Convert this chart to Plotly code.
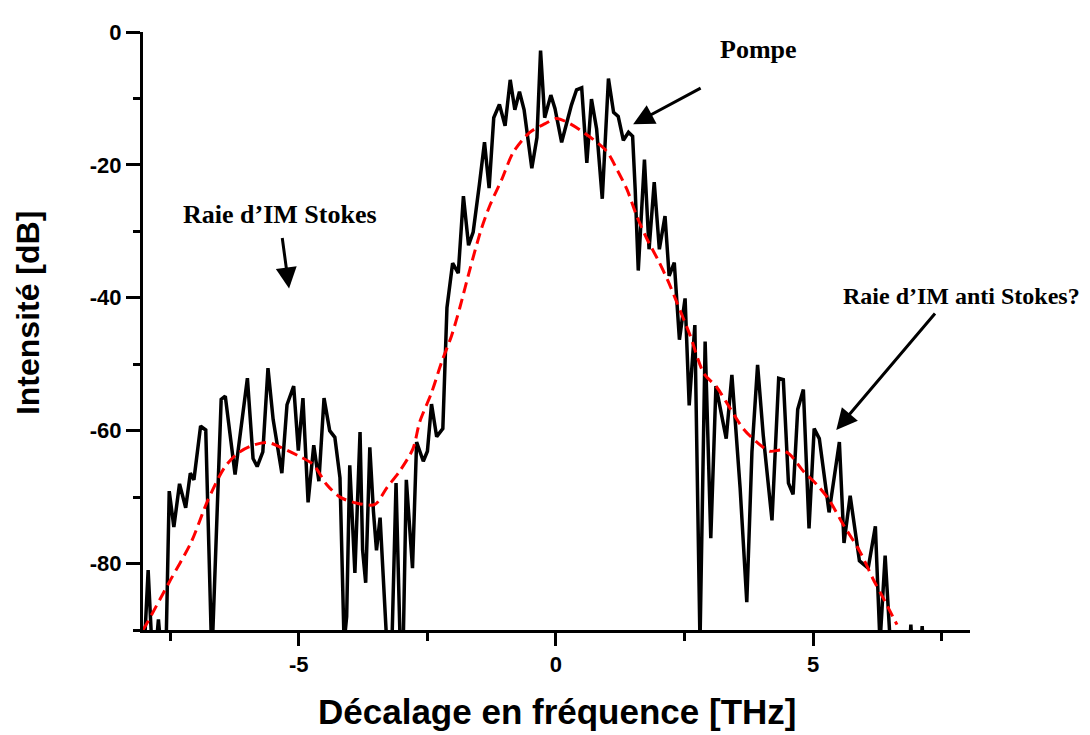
import plotly.graph_objects as go

# Measured spectrum (black) : frequency offset [THz], intensity [dB]
freq = [-8.00, -7.93, -7.86, -7.77, -7.73, -7.69, -7.58, -7.52, -7.43, -7.32, -7.20, -7.11, -7.04,
        -6.91, -6.81, -6.75, -6.70, -6.68, -6.51, -6.43, -6.24, -6.00, -5.89, -5.81, -5.70, -5.60,
        -5.50, -5.33, -5.23, -5.10, -5.01, -4.92, -4.82, -4.71, -4.61, -4.51, -4.40, -4.30, -4.20,
        -4.12, -4.07, -4.01, -3.91, -3.81, -3.76, -3.70, -3.62, -3.55, -3.49, -3.42, -3.29, -3.19,
        -3.11, -3.03, -2.97, -2.91, -2.79, -2.71, -2.58, -2.50, -2.42, -2.32, -2.20, -2.12, -2.01,
        -1.90, -1.80, -1.70, -1.61, -1.49, -1.39, -1.30, -1.21, -1.10, -0.99, -0.89, -0.80, -0.71,
        -0.62, -0.47, -0.37, -0.30, -0.22, -0.10, -0.02, 0.11, 0.30, 0.40, 0.50, 0.60, 0.69, 0.79,
        0.90, 1.02, 1.12, 1.21, 1.31, 1.41, 1.49, 1.54, 1.60, 1.72, 1.81, 1.91, 2.01, 2.12, 2.20,
        2.30, 2.40, 2.51, 2.59, 2.70, 2.80, 2.90, 3.01, 3.11, 3.31, 3.42, 3.58, 3.71, 3.81, 3.92,
        4.03, 4.20, 4.33, 4.42, 4.52, 4.61, 4.70, 4.81, 4.92, 5.02, 5.12, 5.31, 5.51, 5.60, 5.72,
        5.90, 6.07, 6.21, 6.30, 6.40, 6.50, 6.88, 6.90, 6.92, 7.10, 7.12, 7.14]
intensity = [-92, -81.0, -92, -92, -88.4, -92, -92, -69.1, -74.5, -68.0, -71.6, -66.4, -67.4,
             -59.3, -59.9, -78.0, -92, -92, -55.3, -54.8, -66.6, -52.1, -64.2, -65.4, -63.2, -50.6,
             -58.3, -66.4, -56.1, -53.3, -63.0, -55.1, -70.8, -62.2, -67.6, -55.1, -60.0, -61.0, -67.1,
             -92, -88.0, -65.2, -81.4, -60.2, -78.0, -82.9, -62.5, -72.1, -78.0, -73.1, -92, -92,
             -67.9, -92, -92, -67.4, -80.7, -61.7, -64.6, -63.1, -56.0, -60.9, -59.7, -41.5, -34.8,
             -36.3, -24.7, -32.1, -30.1, -23.0, -16.6, -23.5, -12.9, -10.9, -14.1, -7.2, -11.7, -9.0,
             -11.7, -20.5, -15.9, -2.8, -12.9, -9.5, -11.5, -16.6, -11.0, -8.7, -8.4, -19.7, -10.1, -14.6,
             -25.1, -7.0, -12.1, -12.7, -16.3, -15.1, -15.7, -23.7, -35.9, -19.2, -32.7, -22.6, -32.7, -27.7, -36.7,
             -34.7, -46.3, -40.1, -56.2, -44.1, -92, -46.6, -76.2, -53.3, -61.2, -51.6, -68.6, -85.8, -63.2, -50.1,
             -60.7, -73.5, -52.1, -52.3, -67.9, -69.6, -56.8, -53.8, -74.7, -59.7, -61.2, -72.3, -61.7, -76.9, -69.8,
             -79.6, -80.7, -74.4, -92, -78.8, -92, -92, -89.2, -92, -92, -89.4, -92]

# Smoothed fit (red dashed)
fit_freq = [-8.03, -7.94, -7.52, -7.10, -6.77, -6.45, -6.19, -5.89, -5.60, -5.30, -4.98, -4.72, -4.46,
            -4.20, -3.88, -3.52, -3.29, -3.04, -2.78, -2.65, -2.42, -2.22, -2.03, -1.87, -1.67, -1.45,
            -1.28, -1.06, -0.83, -0.51, -0.21, 0.01, 0.27, 0.66, 0.99, 1.18, 1.38, 1.57, 1.76, 1.99,
            2.18, 2.35, 2.61, 2.87, 3.13, 3.39, 3.64, 3.90, 4.16, 4.39, 4.55, 4.81, 5.07, 5.30, 5.59,
            5.91, 6.17, 6.37, 6.63]
fit_int = [-90.0, -88.8, -82.8, -76.9, -70.5, -65.6, -63.4, -62.2, -61.8, -62.7, -63.9, -65.1, -68.1,
           -70.0, -70.9, -71.1, -68.6, -66.1, -62.7, -58.7, -54.3, -49.6, -45.7, -41.5, -35.6, -29.6,
           -26.0, -22.3, -18.1, -15.1, -13.8, -13.0, -13.8, -15.8, -18.0, -20.6, -23.7, -27.7, -31.0, -34.4,
           -37.5, -40.7, -45.7, -51.3, -53.5, -56.7, -59.7, -61.7, -63.1, -62.9, -63.6, -66.1, -68.1, -70.3, -74.2,
           -78.2, -82.4, -85.3, -89.2]

x_range = [-8.03, 8.05]
y_range = [-90, 0]
x_ticks = [-5, 0, 5]
y_ticks = [0, -20, -40, -60, -80]

fig = go.Figure()
fig.add_trace(go.Scatter(x=freq, y=intensity, mode="lines",
                         line=dict(color="black", width=3.5), showlegend=False))
fig.add_trace(go.Scatter(x=fit_freq, y=fit_int, mode="lines",
                         line=dict(color="#FF0000", width=3, dash="11px,6px", shape="spline", smoothing=0.8),
                         showlegend=False))

tickfont = dict(family="Liberation Sans, Arial", size=22, color="black", weight="bold")
fig.update_layout(
    width=1082, height=727,
    margin=dict(l=135, r=120, t=14, b=105),
    plot_bgcolor="white", paper_bgcolor="white",
    xaxis=dict(range=x_range, showgrid=False, zeroline=False, showline=True, linecolor="black",
               linewidth=3, ticks="outside", ticklen=13, tickwidth=3, tickcolor="black",
               tickvals=x_ticks, ticktext=[str(v) for v in x_ticks], tickfont=tickfont,
               minor=dict(dtick=2.5, tick0=0, ticks="outside", ticklen=8, tickwidth=3, tickcolor="black")),
    yaxis=dict(range=y_range, showgrid=False, zeroline=False, showline=True, linecolor="black",
               linewidth=3, ticks="outside", ticklen=14, tickwidth=3, tickcolor="black",
               tickvals=y_ticks, ticktext=[str(v) for v in y_ticks], tickfont=tickfont,
               minor=dict(dtick=10, tick0=0, ticks="outside", ticklen=7, tickwidth=3, tickcolor="black")),
)

fig.add_annotation(text="Décalage en fréquence [THz]", xref="paper", yref="paper",
                   x=0.5, y=-0.137, yanchor="middle", xanchor="center", showarrow=False,
                   font=dict(family="Liberation Sans, Arial", size=35, color="black", weight="bold"))
fig.add_annotation(text="Intensité [dB]", xref="paper", yref="paper", textangle=-90,
                   x=-0.139, y=0.53, xanchor="center", yanchor="middle", showarrow=False,
                   font=dict(family="Liberation Sans, Arial", size=32, color="black", weight="bold"))

labelfont = dict(family="Liberation Serif, Times New Roman", size=26, color="black", weight="bold")
fig.add_annotation(text="Pompe", x=3.94, y=-2.6, showarrow=False, font=labelfont)
fig.add_annotation(text="Raie d’IM Stokes", x=-5.37, y=-27.4, showarrow=False, font=labelfont)
fig.add_annotation(text="Raie d’IM anti Stokes?", xref="paper", x=1.135, xanchor="right", y=-39.8,
                   showarrow=False,
                   font=dict(family="Liberation Serif, Times New Roman", size=24, color="black", weight="bold"))

arrow = dict(showarrow=True, arrowhead=2, arrowsize=1.4, arrowwidth=3, arrowcolor="black",
             text="", axref="pixel", ayref="pixel")
fig.add_annotation(x=1.50, y=-13.9, ax=69, ay=-37, **arrow)
fig.add_annotation(x=-5.19, y=-38.6, ax=-7, ay=-52, **arrow)
fig.add_annotation(x=5.45, y=-59.9, ax=100, ay=-118, **arrow)

fig.write_html("out.html")
